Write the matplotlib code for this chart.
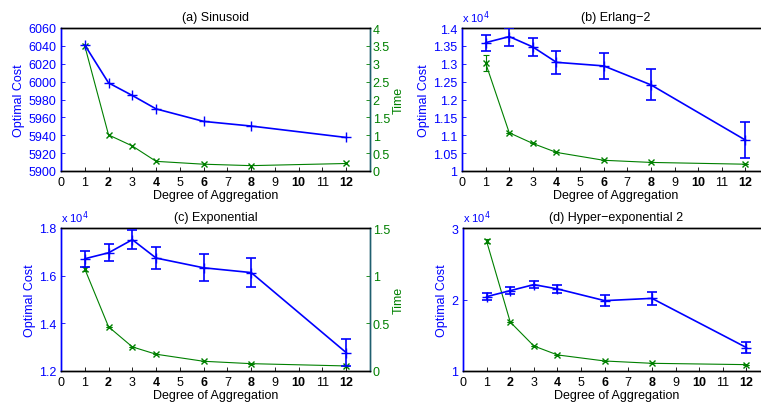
import matplotlib
matplotlib.use("Agg")
import matplotlib.pyplot as plt
import numpy as np

plt.rcParams['font.family'] = ['Liberation Sans', 'DejaVu Sans']

# degree of aggregation
agg = [1, 2, 3, 4, 6, 8, 12]

# (a) Sinusoid
cost_a = [6041, 5998.6, 5984.5, 5969.5, 5955.5, 5950.3, 5937.5]
time_a = [3.5, 1.01, 0.70, 0.27, 0.19, 0.15, 0.21]

# (b) Erlang-2  (cost in units of 1e4)
cost_b = [1.359, 1.376, 1.347, 1.304, 1.294, 1.241, 1.0865]
cost_b_err = [0.022, 0.025, 0.026, 0.033, 0.037, 0.043, 0.051]
time_b = [3.02, 1.07, 0.77, 0.52, 0.30, 0.24, 0.19]
time_b_err = [0.22, 0, 0, 0, 0, 0, 0]

# (c) Exponential
cost_c = [1.671, 1.696, 1.751, 1.674, 1.633, 1.613, 1.277]
cost_c_err = [0.034, 0.036, 0.039, 0.046, 0.056, 0.061, 0.058]
time_c = [1.071, 0.464, 0.253, 0.176, 0.102, 0.077, 0.053]
time_c_err = [0.02, 0, 0, 0, 0, 0, 0]

# (d) Hyper-exponential 2
cost_d = [2.040, 2.124, 2.208, 2.148, 1.984, 2.016, 1.328]
cost_d_err = [0.05, 0.052, 0.052, 0.054, 0.077, 0.089, 0.08]
time_d = [3.63, 1.37, 0.70, 0.45, 0.28, 0.215, 0.178]
time_d_err = [0.06, 0, 0, 0, 0, 0, 0]

BLUE = (0, 0, 1)
GREEN = (0, 0.5, 0)
W, H = 761, 410
FS = 9


def px_axes(fig, left, right, top, bottom):
    return fig.add_axes([left / W, (H - bottom) / H, (right - left) / W, (bottom - top) / H])


def draw_panel(fig, box, title, cost, time, cost_err=None, time_err=None,
               ylim=(0, 1), yticks=None, ytick_labels=None,
               tlim=(0, 4), tticks=None, tlabels=None, exp_label=False,
               show_right=True):
    ax = px_axes(fig, *box)
    ax2 = ax.twinx()

    if cost_err is None:
        ax.plot(agg, cost, color=BLUE, marker='+', markersize=7, lw=1.2, zorder=3)
    else:
        ax.errorbar(agg, cost, yerr=cost_err, color=BLUE, marker='+', markersize=7,
                    lw=1.2, elinewidth=1.2, capsize=3.5, capthick=1.2, zorder=3)
    if time_err is None:
        ax2.plot(agg, time, color=GREEN, marker='x', markersize=4, lw=0.8)
    else:
        ax2.errorbar(agg, time, yerr=time_err, color=GREEN, marker='x', markersize=4,
                     lw=0.8, elinewidth=0.8, capsize=2.5, capthick=0.8)

    ax.set_zorder(ax2.get_zorder() + 1)
    ax.patch.set_visible(False)

    ax.set_xlim(0, 13)
    ax.set_xticks(range(13))
    ax.set_xticklabels([str(i) for i in range(13)], fontsize=FS)
    # even ticks look bold in the original
    for i, lab in enumerate(ax.get_xticklabels()):
        if i % 2 == 0 and i > 0:
            lab.set_fontweight('bold')
    ax.set_ylim(*ylim)
    ax.set_yticks(yticks)
    ax.set_yticklabels(ytick_labels, fontsize=FS, color=BLUE)
    ax.tick_params(direction='in', length=3, width=0.6)
    ax.tick_params(axis='y', colors=BLUE, labelcolor=BLUE)
    ax.set_xlabel('Degree of Aggregation', fontsize=FS, labelpad=1)
    ax.set_ylabel('Optimal Cost', fontsize=FS, color=BLUE, labelpad=2)
    ax.set_title(title, fontsize=FS, pad=6)

    ax2.set_ylim(*tlim)
    ax2.set_yticks(tticks)
    ax2.tick_params(direction='in', length=3, width=0.6, colors=GREEN, labelcolor=GREEN, pad=2)
    if show_right:
        ax2.set_yticklabels(tlabels, fontsize=FS, color=GREEN)
        ax2.set_ylabel('Time', fontsize=FS, color=GREEN, labelpad=2)
    else:
        # right axis falls outside the figure in the original
        ax2.set_yticklabels([])

    for a in (ax, ax2):
        a.spines['left'].set_color(BLUE)
        a.spines['right'].set_color('#1f5f6f')
        for s in a.spines.values():
            s.set_linewidth(1.0)

    if exp_label:
        ax.text(0.0, 1.02, r'x 10$^4$', transform=ax.transAxes, color=BLUE,
                fontsize=FS - 1, ha='left', va='bottom')
    return ax


fig = plt.figure(figsize=(W / 100, H / 100), dpi=100)

time_ticks = np.arange(0, 4.01, 0.5)
time_labels = ['0', '0.5', '1', '1.5', '2', '2.5', '3', '3.5', '4']

draw_panel(fig, (61, 370, 29, 172), '(a) Sinusoid', cost_a, time_a,
           ylim=(5900, 6060), yticks=np.arange(5900, 6061, 20),
           ytick_labels=[str(v) for v in range(5900, 6061, 20)],
           tlim=(0, 4), tticks=time_ticks, tlabels=time_labels)

draw_panel(fig, (462, 769, 29, 172), '(b) Erlang\u22122', cost_b, time_b,
           cost_err=cost_b_err, time_err=time_b_err,
           ylim=(1.0, 1.4), yticks=np.arange(1.0, 1.401, 0.05),
           ytick_labels=['1', '1.05', '1.1', '1.15', '1.2', '1.25', '1.3', '1.35', '1.4'],
           tlim=(0, 4), tticks=time_ticks, tlabels=time_labels,
           exp_label=True, show_right=False)

draw_panel(fig, (61, 370, 229, 372), '(c) Exponential', cost_c, time_c,
           cost_err=cost_c_err, time_err=time_c_err,
           ylim=(1.2, 1.8), yticks=[1.2, 1.4, 1.6, 1.8],
           ytick_labels=['1.2', '1.4', '1.6', '1.8'],
           tlim=(0, 1.5), tticks=[0, 0.5, 1, 1.5],
           tlabels=['0', '0.5', '1', '1.5'], exp_label=True)

draw_panel(fig, (463, 770, 229, 372), '(d) Hyper\u2212exponential 2', cost_d, time_d,
           cost_err=cost_d_err, time_err=time_d_err,
           ylim=(1, 3), yticks=[1, 2, 3], ytick_labels=['1', '2', '3'],
           tlim=(0, 4), tticks=time_ticks, tlabels=time_labels,
           exp_label=True, show_right=False)

fig.savefig('out.png', dpi=100)
